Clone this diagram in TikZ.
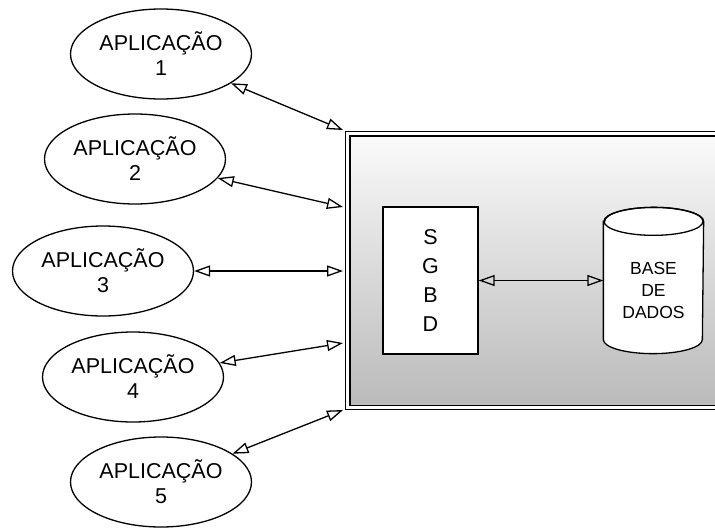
\documentclass[tikz,border=0pt]{standalone}
\usepackage{fontspec}
\setmainfont{Liberation Sans}
\usetikzlibrary{arrows.meta,calc,shapes.geometric}

\begin{document}
\begin{tikzpicture}[x=1pt,y=1pt,
  line width=1.3pt,
  app/.style={draw, ellipse, minimum width=181pt, minimum height=90pt,
    inner sep=0pt, align=center, font=\fontsize{21.5}{25}\selectfont},
  link/.style={draw, {Triangle[open,length=16pt,width=11pt]}-{Triangle[open,length=16pt,width=11pt]}},
  dbtext/.style={align=center, font=\fontsize{17.5}{22}\selectfont}
]
\useasboundingbox (0,0) rectangle (715,-528);
\clip (0,0) rectangle (715,-528);

% applications
\node[app] (e1) at (161,-54)  {APLICAÇÃO\\1};
\node[app] (e2) at (135,-159) {APLICAÇÃO\\2};
\node[app] (e3) at (103,-271) {APLICAÇÃO\\3};
\node[app] (e4) at (133,-377) {APLICAÇÃO\\4};
\node[app] (e5) at (161,-482) {APLICAÇÃO\\5};

% system frame (runs past the right edge)
\node[draw, fill=white, anchor=north west, inner sep=0pt,
  minimum width=400pt, minimum height=278pt] (sys) at (345,-131) {};
\draw[top color=black!2, bottom color=black!27]
  ($(sys.north west)+(5,-5)$) rectangle ($(sys.south east)+(0,5)$);

% DBMS block
\node[draw, fill=white, minimum width=95pt, minimum height=147pt,
  inner sep=0pt, align=center, font=\fontsize{21.5}{29}\selectfont]
  (sgbd) at (430.5,-280.5) {S\\G\\B\\D};

% database cylinder
\node[minimum width=99pt, minimum height=145pt, inner sep=0pt] (bd) at (653.5,-280.5) {};
\draw[fill=white] ($(bd.north west)+(0,-14)$) -- ($(bd.south west)+(0,14)$)
  arc (180:360:49.5 and 14) -- ($(bd.north east)+(0,-14)$)
  arc (0:180:49.5 and 14) -- cycle;
\draw ($(bd.north)+(0,-14)$) ellipse (49.5 and 14);
\node[dbtext] (bdtext) at ($(bd.center)+(0,-9.5)$) {BASE\\DE\\DADOS};

% attachment points on the frame
\coordinate (p1) at (343,-130);
\coordinate (p2) at (343,-207);
\coordinate (p3) at (343,-271);
\coordinate (p4) at (343,-343);
\coordinate (p5) at (343,-410);

\draw[link] (e1) -- (p1);
\draw[link] (e2) -- (p2);
\draw[link] (e3) -- (p3);
\draw[link] (e4) -- (p4);
\draw[link] (e5) -- (p5);
\draw[link] (sgbd.east) -- (bd.west);
\end{tikzpicture}
\end{document}
